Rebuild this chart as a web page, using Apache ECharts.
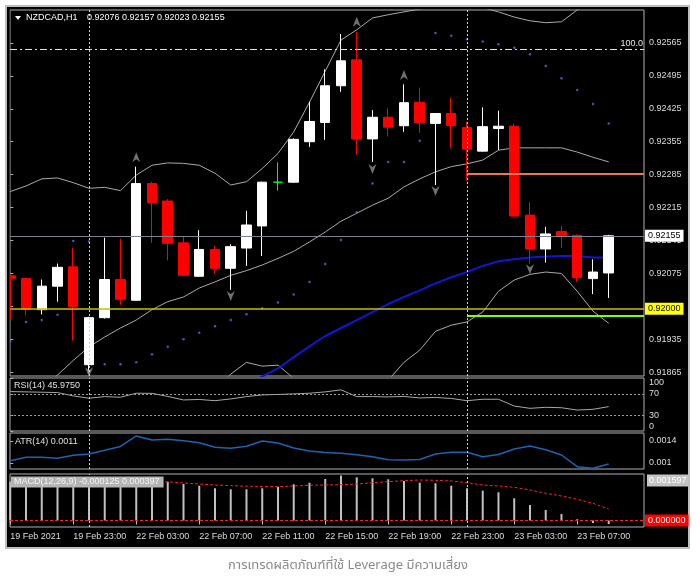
<!DOCTYPE html>
<html><head><meta charset="utf-8">
<script src="https://cdn.jsdelivr.net/npm/echarts@6/dist/echarts.min.js"></script>
<style>html,body{margin:0;padding:0;background:#fff;}#c{width:696px;height:582px;}</style>
</head><body><div id="c"></div>
<script>
// ---- data (NZDCAD H1) ----
const openP  = [0.92070,0.92064,0.91998,0.92048,0.92089,0.91881,0.91981,0.92062,0.92018,0.92266,0.92229,0.92140,0.92069,0.92126,0.92086,0.92129,0.92176,0.92269,0.92269,0.92355,0.92396,0.92474,0.92529,0.92361,0.92407,0.92389,0.92439,0.92394,0.92415,0.92385,0.92335,0.92383,0.92388,0.92199,0.92127,0.92164,0.92156,0.92064,0.92076];
const highP  = [0.92072,0.92066,0.92062,0.92096,0.92130,0.91983,0.92151,0.92149,0.92302,0.92270,0.92233,0.92154,0.92167,0.92135,0.92137,0.92208,0.92270,0.92311,0.92362,0.92440,0.92509,0.92584,0.92589,0.92422,0.92426,0.92477,0.92470,0.92416,0.92449,0.92398,0.92428,0.92421,0.92394,0.92227,0.92174,0.92176,0.92158,0.92105,0.92157];
const lowP   = [0.91976,0.91986,0.91988,0.92015,0.91932,0.91862,0.91979,0.92008,0.92017,0.92140,0.92103,0.92070,0.92068,0.92074,0.92040,0.92091,0.92112,0.92251,0.92268,0.92344,0.92359,0.92461,0.92327,0.92312,0.92366,0.92376,0.92374,0.92263,0.92341,0.92272,0.92334,0.92337,0.92196,0.92096,0.92098,0.92129,0.92057,0.92031,0.92023];
const closeP = [0.92065,0.91999,0.92048,0.92088,0.92005,0.91981,0.92062,0.92020,0.92266,0.92226,0.92139,0.92071,0.92126,0.92086,0.92132,0.92178,0.92269,0.92269,0.92360,0.92398,0.92474,0.92527,0.92361,0.92407,0.92386,0.92438,0.92396,0.92415,0.92389,0.92339,0.92387,0.92388,0.92197,0.92127,0.92159,0.92155,0.92066,0.92078,0.92155];
const bbUpper  = [0.92249,0.92261,0.92276,0.92278,0.92268,0.92256,0.92258,0.92251,0.92284,0.92305,0.92310,0.92309,0.92305,0.92288,0.92263,0.92270,0.92298,0.92330,0.92376,0.92439,0.92505,0.92571,0.92593,0.92618,0.92625,0.92631,0.92637,0.92642,0.92644,0.92644,0.92640,0.92631,0.92620,0.92612,0.92608,0.92610,0.92635,0.92654,0.92657];
const bbMiddle = [0.91763,0.91795,0.91827,0.91859,0.91890,0.91919,0.91940,0.91959,0.91976,0.91998,0.92015,0.92025,0.92044,0.92057,0.92071,0.92081,0.92093,0.92107,0.92122,0.92142,0.92163,0.92186,0.92203,0.92220,0.92235,0.92259,0.92276,0.92291,0.92302,0.92308,0.92316,0.92337,0.92342,0.92342,0.92342,0.92342,0.92333,0.92322,0.92312];
const bbLower  = [0.91278,0.91329,0.91378,0.91439,0.91514,0.91582,0.91622,0.91667,0.91667,0.91690,0.91718,0.91742,0.91784,0.91827,0.91861,0.91886,0.91878,0.91880,0.91852,0.91837,0.91820,0.91805,0.91814,0.91822,0.91848,0.91886,0.91912,0.91952,0.91965,0.91972,0.91993,0.92037,0.92061,0.92073,0.92078,0.92075,0.92037,0.91995,0.91969];
const maBlue   = [0.91550,0.91569,0.91588,0.91607,0.91627,0.91646,0.91665,0.91684,0.91703,0.91722,0.91742,0.91761,0.91780,0.91799,0.91818,0.91837,0.91856,0.91873,0.91897,0.91920,0.91942,0.91959,0.91976,0.91993,0.92010,0.92025,0.92039,0.92054,0.92067,0.92078,0.92091,0.92101,0.92105,0.92109,0.92111,0.92112,0.92112,0.92109,0.92109];
const sarVals  = [0.91931,0.91972,0.91976,0.91987,0.92144,0.92143,0.91882,0.91882,0.91886,0.91903,0.91919,0.91935,0.91949,0.91963,0.91976,0.91988,0.92001,0.92013,0.92030,0.92057,0.92095,0.92146,0.92205,0.92266,0.92312,0.92312,0.92357,0.92586,0.92580,0.92573,0.92568,0.92562,0.92555,0.92541,0.92516,0.92490,0.92465,0.92435,0.92394];
const fractalUpBars = [8, 22, 25];
const fractalUpVals = [0.92322, 0.92610, 0.92497];
const fractalDownBars = [5, 14, 23, 27, 33];
const fractalDownVals = [0.91865, 0.92027, 0.92297, 0.92250, 0.92084];
const rsiVals  = [74.4,73.8,73.2,72.5,66.2,61.8,64.9,63.7,71.3,71.0,65.2,58.6,59.5,57.2,60.5,64.9,68.1,69.0,70.0,71.3,73.8,77.6,64.9,64.9,64.3,65.2,62.4,63.3,61.4,57.2,59.9,59.9,47.1,42.8,44.7,43.9,39.5,40.9,45.975];
const atrVals  = [0.001042,0.001104,0.001104,0.001085,0.001142,0.001164,0.001231,0.001300,0.001491,0.001418,0.001431,0.001405,0.001369,0.001285,0.001269,0.001304,0.001400,0.001364,0.001273,0.001218,0.001191,0.001176,0.001151,0.001115,0.001060,0.001055,0.001064,0.001164,0.001195,0.001195,0.001115,0.001155,0.001255,0.001309,0.001242,0.001145,0.000933,0.000904,0.000982];
const macdVals = [0.00135,0.00132,0.00130,0.00128,0.00125,0.00122,0.00122,0.00122,0.00135,0.00138,0.001347,0.001267,0.001208,0.001118,0.001083,0.001083,0.001118,0.001173,0.001257,0.001312,0.001441,0.001562,0.001500,0.001465,0.001430,0.001371,0.001312,0.001291,0.001208,0.001118,0.001035,0.000979,0.000771,0.000538,0.000365,0.000226,0.000042,-0.000087,-0.000125];
const signalVals = [0.00136,0.00136,0.00135,0.00135,0.00134,0.00134,0.00133,0.00133,0.00134,0.00135,0.00134,0.001302,0.001267,0.001232,0.001208,0.001191,0.001180,0.001173,0.001198,0.001222,0.001232,0.001243,0.001267,0.001312,0.001347,0.001382,0.001406,0.001395,0.001371,0.001312,0.001232,0.001198,0.001153,0.001059,0.000944,0.000851,0.000736,0.000597,0.000397];
const priceTicks = [0.91865,0.91935,0.92005,0.92075,0.92145,0.92215,0.92285,0.92355,0.92425,0.92495,0.92565];
const rsiTicks = [0, 30, 70, 100];
const atrTicks = [0.001, 0.0014];
const atrTickLabels = ['0.001', '0.0014'];
const macdTicks = [0.001597];
const tickBars = [0, 4, 8, 12, 16, 20, 24, 28, 32, 36];
const tickLabels = ['19 Feb 2021','19 Feb 23:00','22 Feb 03:00','22 Feb 07:00','22 Feb 11:00','22 Feb 15:00','22 Feb 19:00','22 Feb 23:00','23 Feb 03:00','23 Feb 07:00'];
const separatorBars = [5, 29];
const bidPrice = 0.92155, yellowLevel = 0.92000, fiboLevel = 0.92552, orangeLevel = 0.92287, greenLevel = 0.91986;
const levelStartBar = 29;
const rsiLevels = [70, 30];

// ---- chart ----
const FONT = '"Liberation Sans", Arial, sans-serif';
const TXT = '#dcdcdc';
const X_MIN = -0.016, X_MAX = 40.24;
const pair = arr => arr.map((v, i) => [i, v]);

const candleData = openP.map((o, i) => {
  const item = { value: [i, o, closeP[i], lowP[i], highP[i]] };
  if (o === closeP[i]) item.itemStyle = { color: '#00ff00', color0: '#00ff00', borderColor: '#00ff00', borderColor0: '#00ff00' };
  return item;
});

const sepData = separatorBars.map(b => ({ xAxis: b, lineStyle: { color: '#d0d0d0', type: [2, 2], width: 1 } }));
const mlBase = { silent: true, symbol: 'none', animation: false, precision: 8, label: { show: false }, lineStyle: { width: 1 } };

const grids = [
  { left: 10, top: 10, width: 634, height: 366 },
  { left: 10, top: 378, width: 634, height: 53 },
  { left: 10, top: 433, width: 634, height: 36 },
  { left: 10, top: 474, width: 634, height: 53 }
].map(g => Object.assign(g, { show: true, borderColor: '#b0b0b0', borderWidth: 1, backgroundColor: 'transparent', containLabel: false, outerBoundsMode: 'none' }));

const xAxes = [0, 1, 2, 3].map(g => ({
  gridIndex: g, type: 'value', min: X_MIN, max: X_MAX,
  splitLine: { show: false }, axisLine: { show: false },
  axisTick: { show: g === 3, customValues: tickBars, length: 4, lineStyle: { color: '#c0c0c0' } },
  axisLabel: { show: g === 3, customValues: tickBars, formatter: v => tickLabels[tickBars.indexOf(v)], align: 'left', color: TXT, fontSize: 9, fontFamily: FONT, margin: 5, hideOverlap: false }
}));

const yLabel = { color: TXT, fontSize: 9, fontFamily: FONT, margin: 5, hideOverlap: false };
const yTick = { show: true, length: 3, lineStyle: { color: '#b0b0b0' } };
const yAxes = [
  { gridIndex: 0, type: 'value', position: 'right', min: 0.91857, max: 0.92635, splitLine: { show: false }, axisLine: { show: false },
    axisTick: Object.assign({ customValues: priceTicks }, yTick),
    axisLabel: Object.assign({ customValues: priceTicks, formatter: v => v.toFixed(5) }, yLabel) },
  { gridIndex: 1, type: 'value', position: 'right', min: 0, max: 100, splitLine: { show: false }, axisLine: { show: false },
    axisTick: Object.assign({ customValues: rsiTicks }, yTick),
    axisLabel: Object.assign({ customValues: rsiTicks, formatter: v => String(v), verticalAlignMinLabel: 'bottom', verticalAlignMaxLabel: 'top' }, yLabel) },
  { gridIndex: 2, type: 'value', position: 'right', min: 0.000891, max: 0.001545, splitLine: { show: false }, axisLine: { show: false },
    axisTick: Object.assign({ customValues: atrTicks }, yTick),
    axisLabel: Object.assign({ customValues: atrTicks, formatter: v => atrTickLabels[atrTicks.indexOf(v)] }, yLabel) },
  { gridIndex: 3, type: 'value', position: 'right', min: -0.000226, max: 0.001614, splitLine: { show: false }, axisLine: { show: false },
    axisTick: { show: false },
    axisLabel: Object.assign({}, yLabel, { customValues: macdTicks, formatter: v => v.toFixed(6), color: '#ffffff', backgroundColor: '#c4c4c4', padding: [2, 2, 1, 2], verticalAlign: 'top', margin: 3 }) }
];

const boxLabel = (text, bg, fg) => ({ show: true, position: 'end', formatter: text, color: fg, backgroundColor: bg, padding: [2, 3, 1, 3], fontSize: 9, fontFamily: FONT, distance: 1 });

const mainLines = [
  { yAxis: fiboLevel, lineStyle: { color: '#e0e0e0', type: [7, 3, 2, 3], width: 1 },
    label: { show: true, position: 'insideEndTop', formatter: '100.0', color: '#e8e8e8', fontSize: 9, fontFamily: FONT, distance: 1 } },
  { yAxis: bidPrice, lineStyle: { color: '#7c8290', type: 'solid', width: 1 }, label: boxLabel(bidPrice.toFixed(5), '#ffffff', '#000000') },
  { yAxis: yellowLevel, lineStyle: { color: '#c0c000', type: 'solid', width: 1.5 }, label: boxLabel(yellowLevel.toFixed(5), '#ffff00', '#000000') },
  [{ coord: [levelStartBar, orangeLevel], lineStyle: { color: '#e8784e', type: 'solid', width: 2 } }, { coord: [X_MAX, orangeLevel] }],
  [{ coord: [levelStartBar, greenLevel], lineStyle: { color: '#7fff00', type: 'solid', width: 2 } }, { coord: [X_MAX, greenLevel] }]
].concat(sepData);

const series = [
  { type: 'candlestick', name: 'NZDCAD', xAxisIndex: 0, yAxisIndex: 0, data: candleData, barWidth: 10, clip: true, z: 3,
    itemStyle: { color: '#ffffff', color0: '#ff0000', borderColor: '#ffffff', borderColor0: '#ff0000', borderWidth: 1 } },
  { type: 'line', name: 'BB upper', xAxisIndex: 0, yAxisIndex: 0, data: pair(bbUpper), symbol: 'none', clip: true, lineStyle: { color: '#a9a9a9', width: 1 }, z: 2 },
  { type: 'line', name: 'BB middle', xAxisIndex: 0, yAxisIndex: 0, data: pair(bbMiddle), symbol: 'none', clip: true, lineStyle: { color: '#a9a9a9', width: 1 }, z: 2,
    markLine: Object.assign({}, mlBase, { data: mainLines }) },
  { type: 'line', name: 'BB lower', xAxisIndex: 0, yAxisIndex: 0, data: pair(bbLower), symbol: 'none', clip: true, lineStyle: { color: '#a9a9a9', width: 1 }, z: 2 },
  { type: 'line', name: 'MA', xAxisIndex: 0, yAxisIndex: 0, data: pair(maBlue), symbol: 'none', clip: true, lineStyle: { color: '#1414d2', width: 2 }, z: 2 },
  { type: 'scatter', name: 'SAR', xAxisIndex: 0, yAxisIndex: 0, data: pair(sarVals), symbol: 'circle', symbolSize: 2.5, itemStyle: { color: '#6a64dc' }, z: 2 },
  { type: 'scatter', name: 'Fractal up', xAxisIndex: 0, yAxisIndex: 0, data: fractalUpBars.map((b, k) => [b, fractalUpVals[k]]),
    symbol: 'path://M5 0 L10 10 L5 7 L0 10 Z', symbolSize: [8, 10], itemStyle: { color: '#8c8c8c' }, z: 4 },
  { type: 'scatter', name: 'Fractal down', xAxisIndex: 0, yAxisIndex: 0, data: fractalDownBars.map((b, k) => [b, fractalDownVals[k]]),
    symbol: 'path://M0 0 L5 3 L10 0 L5 10 Z', symbolSize: [8, 10], itemStyle: { color: '#8c8c8c' }, z: 4 },
  { type: 'line', name: 'RSI', xAxisIndex: 1, yAxisIndex: 1, data: pair(rsiVals), symbol: 'none', lineStyle: { color: '#a8a8a8', width: 1 },
    markLine: Object.assign({}, mlBase, { data: rsiLevels.map(v => ({ yAxis: v, lineStyle: { color: '#9a9a9a', type: [2, 2], width: 1 } })).concat(sepData) }) },
  { type: 'line', name: 'ATR', xAxisIndex: 2, yAxisIndex: 2, data: pair(atrVals), symbol: 'none', lineStyle: { color: '#1f62b0', width: 1.5 },
    markLine: Object.assign({}, mlBase, { data: sepData }) },
  { type: 'bar', name: 'MACD', xAxisIndex: 3, yAxisIndex: 3, data: pair(macdVals), barWidth: 2, itemStyle: { color: '#c0c0c0' }, clip: true,
    markLine: Object.assign({}, mlBase, { data: [{ yAxis: 0, lineStyle: { color: '#ff2020', type: [3, 2], width: 1 }, label: boxLabel('0.000000', '#ff0000', '#ffffff') }].concat(sepData) }) },
  { type: 'line', name: 'Signal', xAxisIndex: 3, yAxisIndex: 3, data: pair(signalVals), symbol: 'none', lineStyle: { color: '#ff2020', type: [3, 2], width: 1 }, z: 3 }
];

const lastIdx = openP.length - 1;
const titleValues = [openP[lastIdx], highP[lastIdx], lowP[lastIdx], closeP[lastIdx]].map(v => v.toFixed(5)).join(' ');
const lblStyle = { fill: '#e0e0e0', fontSize: 9, fontFamily: FONT, verticalAlign: 'middle', align: 'left' };

const option = {
  animation: false,
  backgroundColor: '#ffffff',
  grid: grids,
  xAxis: xAxes,
  yAxis: yAxes,
  series: series,
  graphic: [
    { type: 'rect', shape: { x: 6, y: 6, width: 683, height: 542 }, style: { fill: '#000000', stroke: '#bdbdbd', lineWidth: 2 }, z: -100, silent: true },
    { type: 'rect', shape: { x: 0, y: 10, width: 5, height: 367 }, style: { fill: '#ffffff' }, z: 50, silent: true },
    { type: 'rect', shape: { x: 5, y: 10, width: 2, height: 367 }, style: { fill: '#bdbdbd' }, z: 50, silent: true },
    { type: 'rect', shape: { x: 7, y: 10, width: 2.5, height: 367 }, style: { fill: '#000000' }, z: 50, silent: true },
    { type: 'polygon', shape: { points: [[15, 16], [21, 16], [18, 20]] }, style: { fill: '#ffffff' }, z: 100 },
    { type: 'text', x: 26, y: 18, style: Object.assign({ text: 'NZDCAD,H1' }, lblStyle, { fill: '#ffffff' }), z: 100 },
    { type: 'text', x: 87, y: 18, style: Object.assign({ text: titleValues }, lblStyle, { fill: '#ffffff' }), z: 100 },
    { type: 'text', x: 14, y: 386, style: Object.assign({ text: 'RSI(14) ' + rsiVals[lastIdx].toFixed(4) }, lblStyle), z: 100 },
    { type: 'text', x: 15, y: 442, style: Object.assign({ text: 'ATR(14) 0.0011' }, lblStyle), z: 100 },
    { type: 'text', x: 11, y: 482, style: Object.assign({ text: 'MACD(12,26,9) ' + macdVals[lastIdx].toFixed(6) + ' ' + signalVals[lastIdx].toFixed(6), backgroundColor: '#b4b4b4', padding: [1, 4, 1, 3] }, lblStyle, { fill: '#f4f4f4' }), z: 100 },
    { type: 'text', x: 348, y: 566, style: { text: 'การเทรดผลิตภัณฑ์ที่ใช้ Leverage มีความเสี่ยง', fill: '#8a8a8a', fontSize: 13, fontFamily: '"Noto Sans Thai", "Noto Sans", "DejaVu Sans", sans-serif', align: 'center', verticalAlign: 'middle' }, z: 100 }
  ]
};

const chart = echarts.init(document.getElementById('c'), null, { renderer: 'canvas', width: 696, height: 582 });
chart.setOption(option);
</script>
</body></html>
